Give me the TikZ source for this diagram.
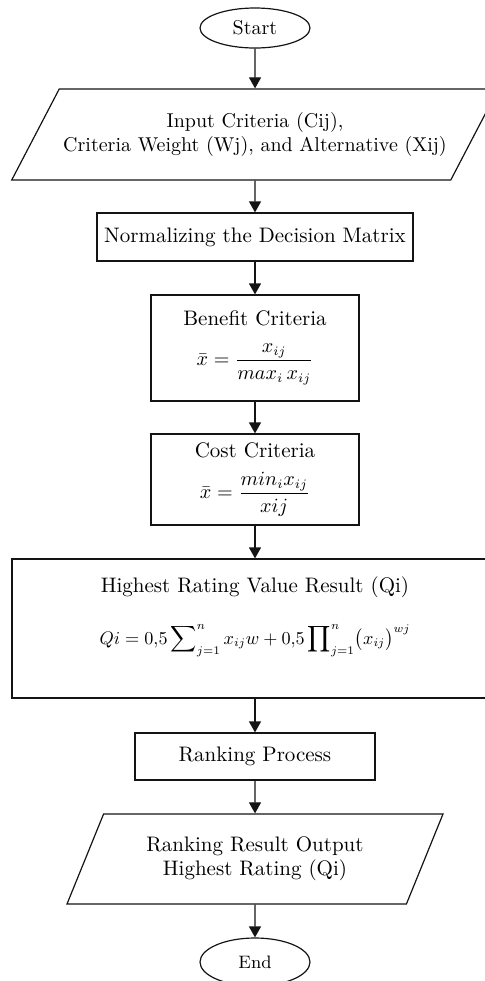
\documentclass[tikz,border=0pt]{standalone}
\usepackage{amsmath}
\usepackage{graphicx}
\usepackage{tikz}
\usetikzlibrary{arrows.meta,shapes.geometric,positioning}
\definecolor{ink}{RGB}{20,20,20}
\tikzset{
  terminal/.style={ellipse,draw=ink,line width=0.6pt,inner sep=0pt,minimum width=55pt},
  io/.style={trapezium,draw=ink,line width=0.6pt,trapezium stretches body,align=center,inner sep=2pt,
    font=\fontsize{10.5pt}{12pt}\selectfont},
  process/.style={rectangle,draw=ink,line width=0.6pt,align=center,inner sep=2pt,
    font=\fontsize{10.5pt}{12pt}\selectfont},
  flowline/.style={-{Triangle[length=5.5pt,width=6pt]},line width=0.6pt,draw=ink},
}
\begin{document}
\begin{tikzpicture}[x=0.5pt,y=-0.5pt]
\useasboundingbox (0,0) rectangle (485,981);
% main flow, top to bottom
\node[terminal,minimum height=20pt] (start) at (255,28) {Start};
\node[io,minimum width=236pt,minimum height=45.5pt,font=\fontsize{10pt}{12pt}\selectfont,
  trapezium left angle=47.6,trapezium right angle=132.4] (input) at (255,134.5)
  {Input Criteria (Cij),\\Criteria Weight (Wj), and Alternative (Xij)};
\node[process,minimum width=158pt,minimum height=24pt] (norm) at (255,237)
  {Normalizing the Decision Matrix};
\node[process,minimum width=104pt,minimum height=53pt] (benefit) at (255,348)
  {Benefit Criteria\\[8pt]\scalebox{0.92}{$\bar{x}=\dfrac{x_{ij}}{max_i\,x_{ij}}$}};
\node[process,minimum width=104pt,minimum height=45.5pt] (cost) at (255,479.5)
  {Cost Criteria\\[6pt]\scalebox{0.92}{$\bar{x}=\dfrac{min_i x_{ij}}{xij}$}};
\node[process,minimum width=243pt,minimum height=69.5pt] (rating) at (255,628.5)
  {Highest Rating Value Result (Qi)\\[12pt]
   \scalebox{0.83}{$\displaystyle Qi=0{,}5\sum\nolimits_{j=1}^{n}x_{ij}w+0{,}5\prod\nolimits_{j=1}^{n}\bigl(x_{ij}\bigr)^{wj}$}\\[6pt]\mbox{}};
\node[process,minimum width=120pt,minimum height=23.5pt] (rank) at (255,756.5)
  {Ranking Process};
\node[io,minimum width=188pt,minimum height=45pt,
  trapezium left angle=54.9,trapezium right angle=125.1] (output) at (255,859)
  {Ranking Result Output\\Highest Rating (Qi)};
\node[terminal,minimum height=24pt] (end) at (255,962) {\small End};

\draw[flowline] (start) -- (input);
\draw[flowline] (input) -- (norm);
\draw[flowline] (norm) -- (benefit);
\draw[flowline] (benefit) -- (cost);
\draw[flowline] (cost) -- (rating);
\draw[flowline] (rating) -- (rank);
\draw[flowline] (rank) -- (output);
\draw[flowline] (output) -- (end);
\end{tikzpicture}
\end{document}
